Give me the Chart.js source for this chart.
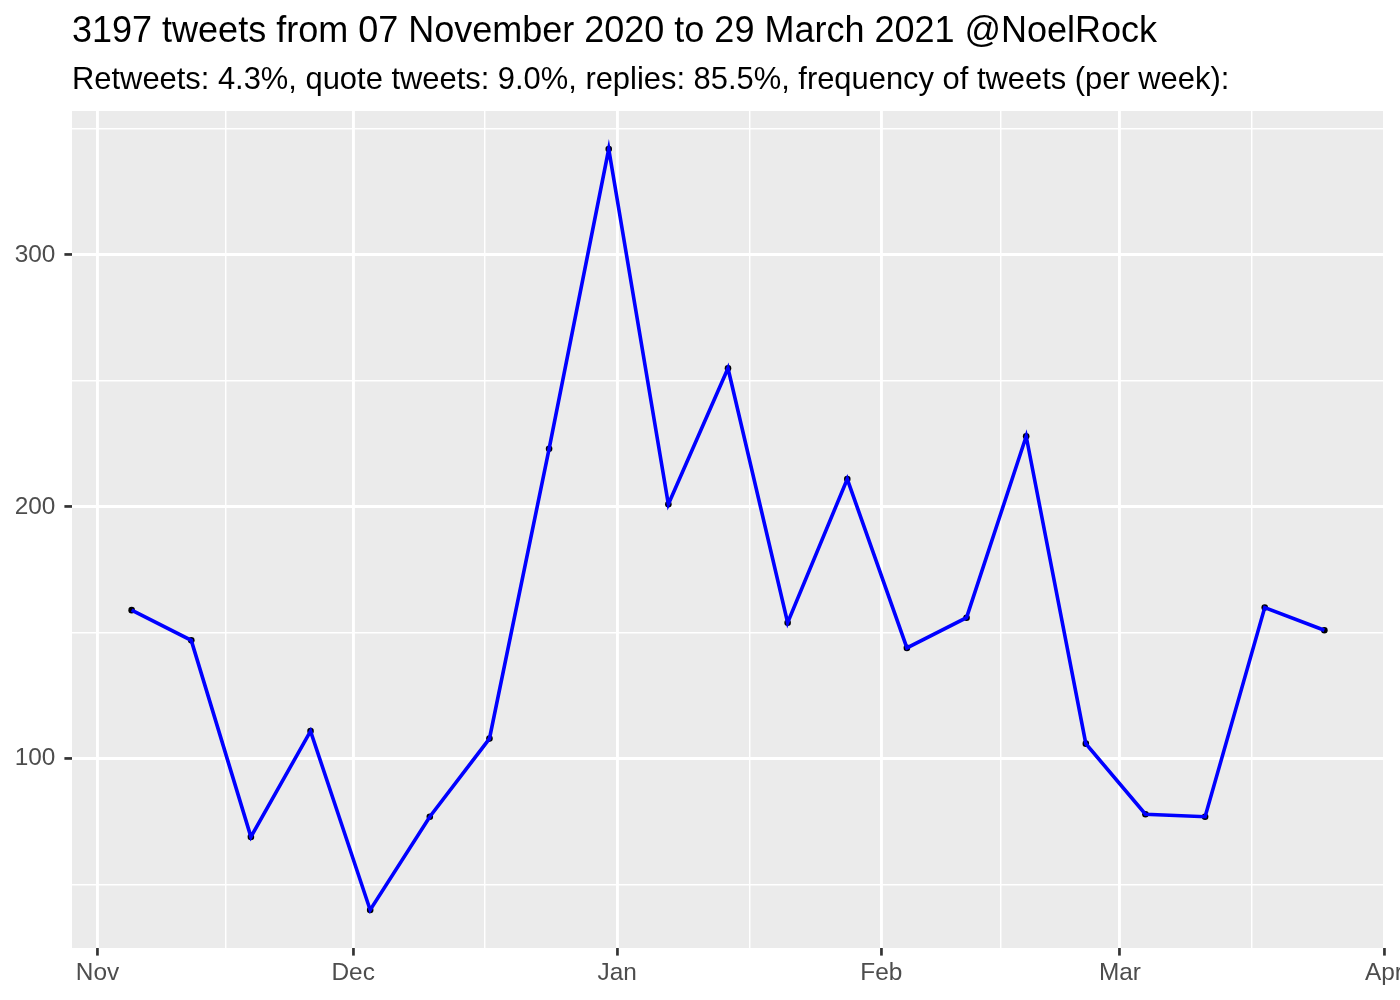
<!DOCTYPE html>
<html>
<head>
<meta charset="utf-8">
<script src="https://cdn.jsdelivr.net/npm/chart.js@4.4.1/dist/chart.umd.min.js"></script>
<style>
  html, body { margin: 0; padding: 0; background: #ffffff; }
  body { width: 1400px; height: 1000px; overflow: hidden; position: relative; font-family: "Liberation Sans", Arial, Helvetica, sans-serif; }
  #title { position: absolute; left: 72px; top: 10px; font-size: 36px; line-height: 40px; color: #000; white-space: nowrap; }
  #subtitle { position: absolute; left: 72px; top: 62px; font-size: 30.9px; line-height: 34px; color: #000; white-space: nowrap; }
  #wrap { position: absolute; left: 0; top: 0; width: 1440px; height: 1000px; }
</style>
</head>
<body>
<div id="wrap"><canvas id="c" width="1440" height="1000"></canvas></div>
<div id="title">3197 tweets from 07 November 2020 to 29 March 2021 @NoelRock</div>
<div id="subtitle">Retweets: 4.3%, quote tweets: 9.0%, replies: 85.5%, frequency of tweets (per week):</div>
<script>
// ---- data ----
const weekDates = ["2020-11-05","2020-11-12","2020-11-19","2020-11-26","2020-12-03","2020-12-10","2020-12-17",
  "2020-12-24","2020-12-31","2021-01-07","2021-01-14","2021-01-21","2021-01-28","2021-02-04",
  "2021-02-11","2021-02-18","2021-02-25","2021-03-04","2021-03-11","2021-03-18","2021-03-25"];
const tweetCounts = [159,147,69,111,40,77,108,223,342,201,255,154,211,144,156,228,106,78,77,160,151];
const monthTickDates = ["2020-11-01","2020-12-01","2021-01-01","2021-02-01","2021-03-01","2021-04-01"];
const monthTickLabels = ["Nov","Dec","Jan","Feb","Mar","Apr"];
const yMajorTicks = [100,200,300];
const yMinorTicks = [50,150,250,350];
const xRangeDates = ["2020-10-29","2021-04-01"];
const yRange = [24.9, 357.1];

// ---- helpers ----
const ORIGIN = Date.UTC(2020,10,1);
function dayNum(s){ const p = s.split("-").map(Number); return (Date.UTC(p[0],p[1]-1,p[2]) - ORIGIN)/86400000; }

const points = weekDates.map((d,i)=>({x: dayNum(d), y: tweetCounts[i]}));
const xMajor = monthTickDates.map(dayNum);
const xMinor = [];
for (let i=0;i<xMajor.length-1;i++) xMinor.push((xMajor[i]+xMajor[i+1])/2);
const xLabelMap = {}; xMajor.forEach((v,i)=>xLabelMap[v]=monthTickLabels[i]);

const FONT = "'Liberation Sans', Arial, Helvetica, sans-serif";
const isMajorX = v => xMajor.indexOf(v) >= 0;
const isMajorY = v => yMajorTicks.indexOf(v) >= 0;

const panelBg = {
  id: 'panelBg',
  beforeDraw(chart){
    const a = chart.chartArea, ctx = chart.ctx;
    ctx.save(); ctx.fillStyle = '#EBEBEB';
    ctx.fillRect(a.left, a.top, a.right-a.left, a.bottom-a.top);
    ctx.restore();
  }
};

new Chart(document.getElementById('c'), {
  type: 'line',
  data: {
    datasets: [
      { data: points, borderColor: '#0000FF', borderWidth: 3.6, pointRadius: 0, tension: 0, fill: false, order: 0 },
      { data: points, showLine: false, pointRadius: 3.3, pointBackgroundColor: '#000000', pointBorderWidth: 0, order: 1 }
    ]
  },
  options: {
    responsive: false,
    animation: false,
    events: [],
    layout: { padding: { top: 111, right: 56, bottom: 0, left: 0 } },
    plugins: { legend: { display: false }, tooltip: { enabled: false }, title: { display: false } },
    scales: {
      x: {
        type: 'linear',
        min: dayNum(xRangeDates[0]),
        max: dayNum(xRangeDates[1]),
        afterBuildTicks(s){ s.ticks = xMajor.concat(xMinor).sort((a,b)=>a-b).map(v=>({value:v})); },
        afterFit(s){ s.height = 52; },
        border: { display: false },
        grid: {
          color: '#FFFFFF',
          lineWidth: c => isMajorX(c.tick.value) ? 2.9 : 1.45,
          drawTicks: true,
          tickLength: 7.6,
          tickWidth: 2.7,
          tickColor: c => isMajorX(c.tick.value) ? '#333333' : 'rgba(0,0,0,0)'
        },
        ticks: {
          autoSkip: false, maxRotation: 0, minRotation: 0, padding: 3,
          color: '#4D4D4D', font: { family: FONT, size: 24.4 },
          callback: v => xLabelMap[v] !== undefined ? xLabelMap[v] : ''
        }
      },
      y: {
        type: 'linear',
        min: yRange[0], max: yRange[1],
        afterBuildTicks(s){ s.ticks = yMinorTicks.concat(yMajorTicks).sort((a,b)=>a-b).map(v=>({value:v})); },
        afterFit(s){ s.width = 72; },
        border: { display: false },
        grid: {
          color: '#FFFFFF',
          lineWidth: c => isMajorY(c.tick.value) ? 2.9 : 1.45,
          drawTicks: true,
          tickLength: 7.6,
          tickWidth: 2.7,
          tickColor: c => isMajorY(c.tick.value) ? '#333333' : 'rgba(0,0,0,0)'
        },
        ticks: {
          autoSkip: false, padding: 9,
          color: '#4D4D4D', font: { family: FONT, size: 24.4 },
          callback: v => isMajorY(v) ? String(v) : ''
        }
      }
    }
  },
  plugins: [panelBg]
});
</script>
</body>
</html>
